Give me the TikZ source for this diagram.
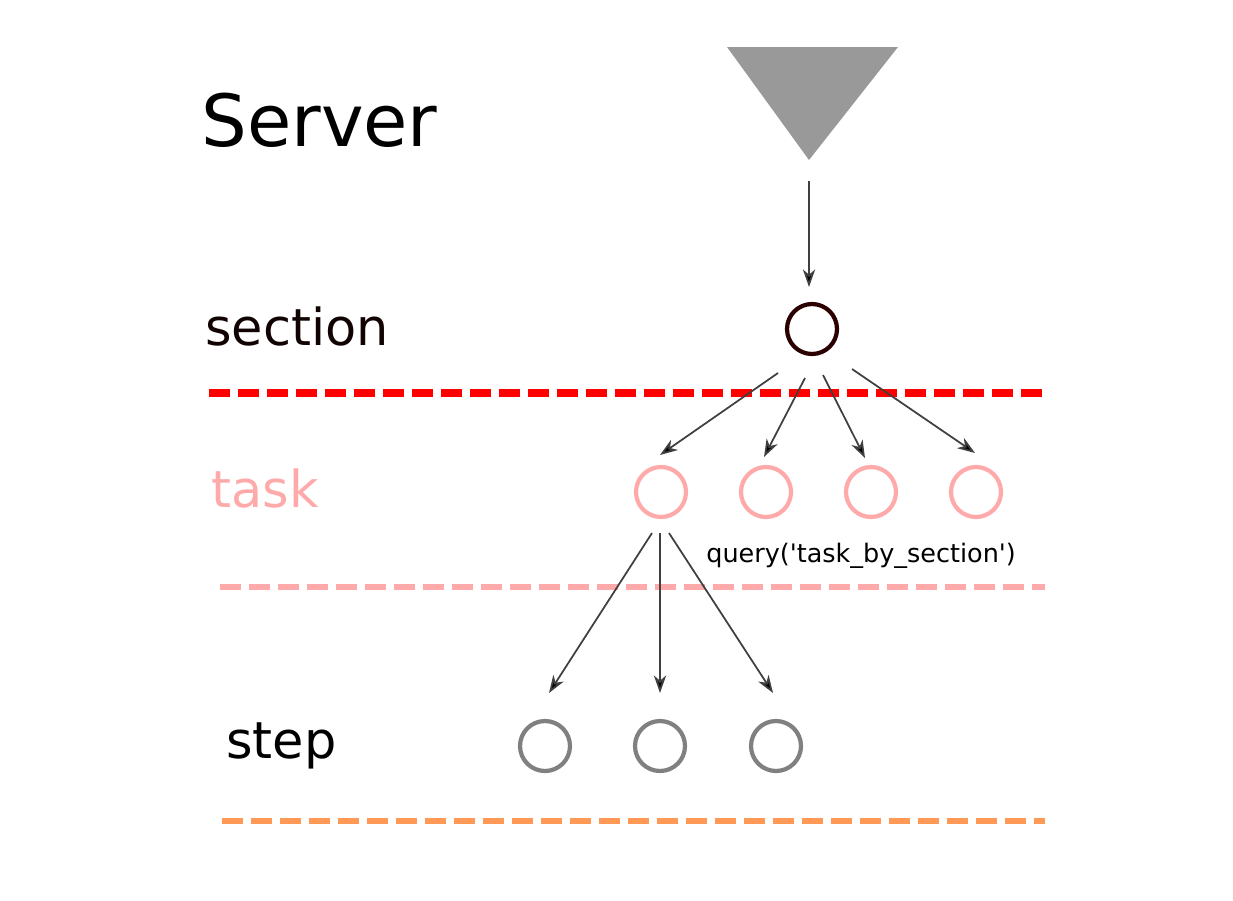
\documentclass[tikz,border=0pt]{standalone}
\usepackage{fontspec}
\setmainfont{DejaVu Sans}
\usetikzlibrary{arrows.meta,calc}
\definecolor{secdark}{HTML}{2B0000}
\definecolor{sectxt}{HTML}{120303}
\definecolor{taskpink}{HTML}{FFAAAA}
\definecolor{steporange}{HTML}{FF9955}
\begin{document}
\begin{tikzpicture}[x=0.02cm,y=-0.02cm,>={Stealth[length=10pt,width=7pt,inset=3pt,fill=black]},
			lbl/.style={anchor=base west,inner sep=0,font=\fontsize{29}{34}\selectfont},
			obj/.style={circle,draw,line width=2.4pt,minimum size=1cm,inner sep=0},
			link/.style={->,line width=1pt,black!75},
			sep/.style={line width=#1,dash pattern=on 0.43cm off 0.15cm}]
			\useasboundingbox (0,0) rectangle (1233,900);
			\node[anchor=base west,inner sep=0,font=\fontsize{41}{48}\selectfont] (srvlbl) at (201,146) {Server};
			\node[lbl,text=sectxt] (seclbl) at (205,345) {section};
			\node[lbl,text=taskpink] (tasklbl) at (211,507) {task};
			\node[lbl] (steplbl) at (226,758) {step};
			\fill[black!40] (727,47) -- (898,47) -- (809,160) coordinate (srv) -- cycle;
			\node[obj,draw=secdark] (sec) at (812,329) {};
			\node[obj,draw=taskpink] (t1) at (661,492) {};
			\node[obj,draw=taskpink] (t2) at (766,492) {};
			\node[obj,draw=taskpink] (t3) at (871,492) {};
			\node[obj,draw=taskpink] (t4) at (976,492) {};
			\node[obj,draw=black!50] (s1) at (545,746) {};
			\node[obj,draw=black!50] (s2) at (660,746) {};
			\node[obj,draw=black!50] (s3) at (776,746) {};
			\node[anchor=base west,inner sep=0,font=\fontsize{14.5}{17}\selectfont] (qry) at (706,562) {query(\textquotesingle task\_by\_section\textquotesingle)};
			\draw[sep=0.16cm,red] (209,393) -- (1047,393);
			\draw[sep=0.12cm,taskpink] (220,587) -- (1045,587);
			\draw[sep=0.12cm,steporange] (222,821) -- (1045,821);
			\draw[link] ($(srv)+(0,21)$) -- ($(sec)+(-3,-42)$);
			\draw[link] ($(sec)+(-34,44)$) -- ($(t1)+(-1,-37)$);
			\draw[link] ($(sec)+(-7,49)$) -- ($(t2)+(-2,-35)$);
			\draw[link] ($(sec)+(11,46)$) -- ($(t3)+(-6,-34)$);
			\draw[link] ($(sec)+(40,40)$) -- ($(t4)+(-1,-39)$);
			\draw[link] ($(t1)+(-9,41)$) -- ($(s1)+(4,-53)$);
			\draw[link] ($(t1)+(-1,41)$) -- ($(s2)+(0,-53)$);
			\draw[link] ($(t1)+(8,41)$) -- ($(s3)+(-3,-53)$);
		\end{tikzpicture}
\end{document}
